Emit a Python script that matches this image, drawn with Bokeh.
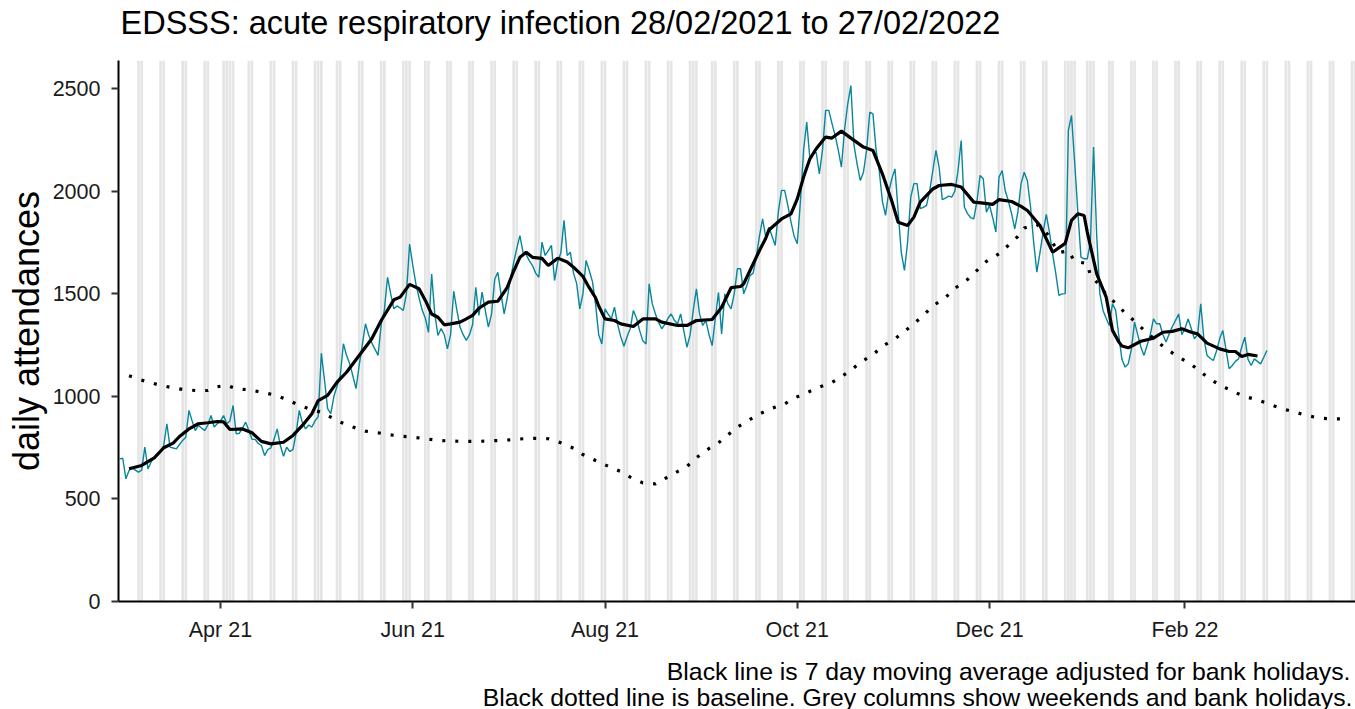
import pandas as pd
from bokeh.plotting import figure
from bokeh.models import Range1d, FixedTicker, DatetimeTickFormatter, Title
from bokeh.embed import file_html
from bokeh.resources import INLINE

# ---------------- data ----------------
start_date = pd.Timestamp("2021-02-28")

# daily attendances, 28/02/2021 .. 27/02/2022
daily = [
    695,
    698, 598, 638, 650, 640, 630, 640,
    752, 646, 680, 703, 715, 728, 760,
    866, 752, 748, 744, 765, 785, 800,
    931, 880, 833, 858, 845, 833, 860,
    906, 850, 866, 880, 906, 866, 880,
    955, 817, 820, 845, 874, 833, 790,
    790, 770, 760, 711, 740, 749, 790,
    841, 760, 708, 752, 731, 740, 820,
    931, 870, 841, 860, 850, 880, 900,
    1210, 1080, 940, 915, 1000, 1050, 1100,
    1256, 1200, 1158, 1100, 1037, 1150, 1250,
    1353, 1300, 1260, 1230, 1199, 1350, 1420,
    1580, 1500, 1426, 1440, 1430, 1418, 1500,
    1742, 1640, 1548, 1480, 1420, 1380, 1312,
    1596, 1400, 1296, 1330, 1300, 1231, 1300,
    1512, 1420, 1337, 1300, 1272, 1300, 1350,
    1531, 1394, 1507, 1420, 1337, 1400, 1570,
    1604, 1500, 1401, 1480, 1572, 1650, 1720,
    1783, 1700, 1690, 1660, 1637, 1600, 1580,
    1751, 1686, 1710, 1735, 1564, 1654, 1700,
    1857, 1686, 1702, 1600, 1550, 1426, 1500,
    1662, 1613, 1560, 1450, 1300, 1255, 1426,
    1400, 1377, 1434, 1350, 1290, 1244, 1290,
    1329, 1418, 1380, 1320, 1270, 1255, 1548,
    1450, 1401, 1360, 1329, 1350, 1380, 1401,
    1370, 1353, 1401, 1320, 1239, 1300, 1420,
    1523, 1400, 1345, 1369, 1300, 1247, 1380,
    1507, 1304, 1499, 1450, 1426, 1500, 1621,
    1621, 1499, 1540, 1588, 1600, 1680, 1780,
    1864, 1775, 1824, 1780, 1735, 1900, 2003,
    2003, 1930, 1850, 1780, 1743, 1950, 2200,
    2336, 2157, 2180, 2189, 2084, 2200, 2393,
    2393, 2330, 2271, 2200, 2117, 2300, 2424,
    2514, 2222, 2130, 2051, 2092, 2200, 2384,
    2376, 2200, 2100, 1950, 1881, 1995, 2060,
    2108, 1900, 1700, 1613, 1750, 1970, 2036,
    2036, 1914, 1920, 1930, 2000, 2100, 2198,
    2117, 1958, 1965, 1975, 1970, 2000, 2100,
    2246, 1922, 1890, 1870, 1864, 1950, 2076,
    2060, 1897, 1930, 1870, 1800, 2068, 2100,
    2000, 1950, 1889, 1816, 1900, 2036, 2092,
    2050, 1922, 1750, 1605, 1700, 1800, 1886,
    1800, 1694, 1600, 1491, 1499, 1500, 2295,
    2368, 2141, 1900, 1678, 1670, 1670, 1750,
    2214, 1780, 1500, 1418, 1380, 1345, 1451,
    1420, 1296, 1180, 1142, 1158, 1230, 1361,
    1300, 1240, 1199, 1250, 1300, 1377, 1353,
    1353, 1300, 1264, 1304, 1340, 1370, 1401,
    1300, 1330, 1377, 1330, 1280, 1300, 1451,
    1280, 1199, 1185, 1174, 1220, 1280, 1321,
    1230, 1134, 1150, 1170, 1182, 1240, 1288,
    1180, 1150, 1182, 1170, 1158, 1190, 1223,
]

# 7 day moving average (days after 28/02/2021, value)
ma_day = [3, 7, 11, 14, 17, 19, 22, 25, 28, 31, 33, 35, 39, 42, 45, 48, 52, 55, 58, 61,
          63, 66, 69, 72, 76, 80, 83, 87, 89, 92, 95, 97, 99, 101, 103, 105, 108, 110, 112, 114,
          117, 120, 123, 125, 127, 129, 131, 134, 136, 139, 142, 144, 147, 149, 151, 152, 154, 157, 159, 163,
          166, 170, 172, 177, 180, 183, 188, 191, 194, 197, 198, 200, 203, 205, 206, 210, 213, 215, 217, 219,
          221, 224, 226, 229, 233, 236, 239, 242, 245, 247, 250, 252, 254, 258, 260, 264, 267, 271, 274, 277,
          279, 283, 286, 288, 292, 296, 300, 302, 304, 306, 307, 310, 313, 315, 317, 318, 320, 324, 328, 331,
          334, 337, 340, 342, 345, 349, 352, 354, 356, 358, 361]
ma_value = [647, 663, 700, 749, 772, 804, 841, 866, 871, 877, 875, 838, 841, 822, 780, 768, 776, 809, 858, 915,
            979, 1004, 1069, 1117, 1199, 1280, 1369, 1470, 1483, 1545, 1524, 1467, 1401, 1385, 1348, 1353, 1361, 1377, 1394, 1429,
            1459, 1463, 1531, 1609, 1677, 1702, 1677, 1672, 1637, 1673, 1654, 1629, 1584, 1529, 1480, 1440, 1377, 1369, 1353, 1340,
            1377, 1377, 1361, 1345, 1345, 1369, 1374, 1434, 1529, 1535, 1548, 1613, 1710, 1770, 1810, 1864, 1889, 1962, 2068, 2157,
            2206, 2263, 2258, 2292, 2247, 2214, 2198, 2084, 1950, 1848, 1832, 1873, 1946, 2010, 2027, 2032, 2020, 1946, 1941, 1935,
            1958, 1949, 1925, 1905, 1832, 1702, 1745, 1857, 1889, 1881, 1800, 1596, 1483, 1321, 1265, 1245, 1236, 1268, 1283, 1312,
            1316, 1329, 1312, 1304, 1259, 1231, 1218, 1218, 1194, 1204, 1196]

# baseline (days after 28/02/2021, value)
base_day = [3, 8, 12, 16, 20, 24, 28, 31, 34, 37, 41, 45, 49, 53, 56, 60, 64, 67, 70, 74,
            78, 82, 85, 89, 93, 97, 101, 105, 109, 113, 117, 121, 125, 128, 132, 136, 140, 144, 147, 151,
            155, 159, 162, 166, 170, 173, 177, 180, 183, 186, 190, 193, 196, 200, 203, 207, 211, 214, 218, 222,
            226, 229, 232, 235, 239, 242, 246, 249, 252, 255, 258, 262, 265, 269, 272, 275, 279, 282, 285, 287,
            291, 294, 296, 298, 301, 303, 307, 308, 311, 313, 316, 319, 322, 325, 328, 332, 336, 340, 343, 346,
            350, 354, 357, 361, 365, 369, 373, 377, 381, 385, 389]
base_value = [1100, 1074, 1057, 1044, 1033, 1028, 1028, 1046, 1054, 1036, 1032, 1020, 1007, 984, 963, 939, 922, 898, 874, 850,
              830, 822, 814, 806, 801, 793, 785, 782, 780, 780, 782, 785, 789, 793, 795, 793, 773, 747, 716, 687,
              659, 633, 606, 578, 573, 599, 633, 658, 700, 736, 773, 812, 850, 887, 914, 942, 963, 991, 1017, 1044,
              1067, 1096, 1126, 1165, 1202, 1244, 1280, 1316, 1353, 1394, 1440, 1481, 1526, 1569, 1613, 1657, 1694, 1736, 1779, 1820,
              1837, 1798, 1748, 1700, 1708, 1657, 1647, 1589, 1540, 1495, 1453, 1406, 1366, 1322, 1282, 1231, 1191, 1155, 1119, 1082,
              1048, 1018, 999, 982, 960, 939, 922, 905, 893, 890, 890]

bank_holidays = ["2021-04-02", "2021-04-05", "2021-05-03", "2021-05-31",
                 "2021-08-30", "2021-12-27", "2021-12-28", "2022-01-03"]

x_tick_dates = ["2021-04-01", "2021-06-01", "2021-08-01", "2021-10-01", "2021-12-01", "2022-02-01"]
y_ticks = [0, 500, 1000, 1500, 2000, 2500]

title_text = "EDSSS: acute respiratory infection 28/02/2021 to 27/02/2022"
caption_1 = "Black line is 7 day moving average adjusted for bank holidays."
caption_2 = "Black dotted line is baseline. Grey columns show weekends and bank holidays."

# ---------------- derived ----------------
dates = pd.date_range(start_date, periods=len(daily), freq="D")
ma_dates = [start_date + pd.Timedelta(days=d) for d in ma_day]
base_dates = [start_date + pd.Timedelta(days=d) for d in base_day]
cal = pd.date_range("2021-03-01", "2022-03-27", freq="D")
grey_days = cal[cal.dayofweek >= 5].union(pd.to_datetime(bank_holidays))

FONT = "Liberation Sans"
TEAL = "#08869b"
DAY_MS = 86400000

p = figure(width=1355, height=709, x_axis_type="datetime", title=None,
           output_backend="svg", toolbar_location=None,
           min_border_left=118, min_border_right=0, min_border_top=60, min_border_bottom=108,
           x_range=Range1d(start_date - pd.Timedelta(hours=8.4), start_date + pd.Timedelta(days=392.1)),
           y_range=Range1d(0, 2636))

p.vbar(x=grey_days, width=0.85 * DAY_MS, bottom=0, top=2700, color="#e5e5e5", line_color=None)
p.line(dates, daily, color=TEAL, line_width=1.4)
p.line(ma_dates, ma_value, color="black", line_width=3.2)
p.line(base_dates, base_value, color="black", line_width=3.2, line_dash="3 10")

p.xgrid.visible = False
p.ygrid.visible = False
p.outline_line_color = None
p.background_fill_color = "white"
p.border_fill_color = "white"

p.xaxis.ticker = FixedTicker(ticks=[pd.Timestamp(t).value // 10**6 for t in x_tick_dates])
fmt = "%b %y"
p.xaxis.formatter = DatetimeTickFormatter(days=fmt, months=fmt, years=fmt, hours=fmt,
                                          minutes=fmt, seconds=fmt, milliseconds=fmt,
                                          microseconds=fmt, minsec=fmt, hourmin=fmt)
p.yaxis.ticker = FixedTicker(ticks=y_ticks)
p.yaxis.axis_label = "daily attendances"

for ax in (p.xaxis[0], p.yaxis[0]):
    ax.axis_line_color = "black"
    ax.axis_line_width = 2
    ax.major_tick_line_color = "#333333"
    ax.major_tick_line_width = 2
    ax.major_tick_out = 7
    ax.major_tick_in = 0
    ax.minor_tick_line_color = None
    ax.major_label_text_font = FONT
    ax.major_label_text_font_size = "21.5px"
    ax.major_label_text_color = "#1a1a1a"
    ax.axis_label_text_font = FONT
    ax.axis_label_text_font_style = "normal"
    ax.axis_label_text_color = "black"

p.xaxis.major_label_standoff = 9
p.yaxis.major_label_standoff = 11
p.yaxis.axis_label_text_font_size = "36px"
p.yaxis.axis_label_standoff = 3

# ---- title (above) : spacer next to the frame, then the title text
p.add_layout(Title(text=" ", text_font=FONT, text_font_size="9.4px", standoff=0), "above")
p.add_layout(Title(text=title_text, align="left", offset=2, vertical_align="top", standoff=9,
                   text_font=FONT, text_font_size="32.5px", text_font_style="normal",
                   text_color="black"), "above")

# ---- caption (below): spacer, then two right-aligned lines
p.add_layout(Title(text=" ", text_font=FONT, text_font_size="10.4px", standoff=0), "below")
p.add_layout(Title(text=caption_1, align="right", offset=5, vertical_align="top", standoff=0,
                   text_font=FONT, text_font_size="24.8px", text_font_style="normal",
                   text_color="black"), "below")
p.add_layout(Title(text=caption_2, align="right", offset=3, vertical_align="top", standoff=-6,
                   text_font=FONT, text_font_size="24.8px", text_font_style="normal",
                   text_color="black"), "below")

open("out.html", "w").write(file_html(p, INLINE))
